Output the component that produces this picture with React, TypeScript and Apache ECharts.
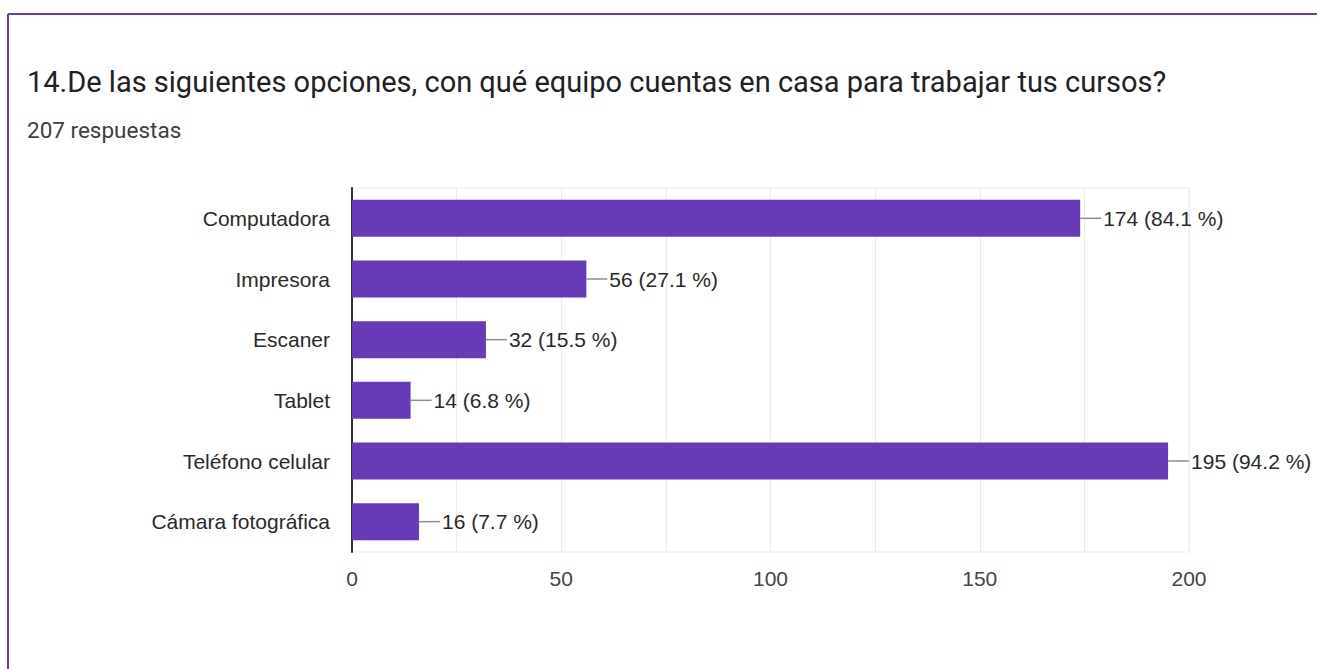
import React, { useEffect, useRef } from "react";
import * as echarts from "echarts";

const TITLE = "14.De las siguientes opciones, con qué equipo cuentas en casa para trabajar tus cursos?";
const SUBTITLE = "207 respuestas";
const categories = ["Computadora", "Impresora", "Escaner", "Tablet", "Teléfono celular", "Cámara fotográfica"];
const counts = [174, 56, 32, 14, 195, 16];
const percents = ["84.1", "27.1", "15.5", "6.8", "94.2", "7.7"];
const xTicks = [0, 50, 100, 150, 200];

const PURPLE = "#673ab7";

export default function App() {
  const ref = useRef<HTMLDivElement>(null);
  useEffect(() => {
    if (!ref.current) return;
    const chart = echarts.init(ref.current, undefined, { renderer: "svg" });
    chart.setOption({
      animation: false,
      backgroundColor: "#ffffff",
      textStyle: { fontFamily: "Liberation Sans, Arial, sans-serif" },
      graphic: [
        { type: "line", shape: { x1: 8, y1: 14, x2: 8, y2: 669 }, style: { stroke: PURPLE, lineWidth: 2 } },
        { type: "line", shape: { x1: 8, y1: 14, x2: 1317, y2: 14 }, style: { stroke: PURPLE, lineWidth: 2 } },
        {
          type: "text", x: 27, y: 82,
          style: { text: TITLE, fontSize: 29, fontFamily: "Roboto, sans-serif", fill: "#202124", verticalAlign: "middle" },
        },
        {
          type: "text", x: 27, y: 130,
          style: { text: SUBTITLE, fontSize: 22.5, fontFamily: "Roboto, sans-serif", fill: "#3c4043", verticalAlign: "middle" },
        },
      ],
      grid: { left: 352, right: 128, top: 188, bottom: 117, show: true, borderColor: "#ebebeb", borderWidth: 1 },
      xAxis: {
        type: "value",
        min: 0,
        max: 200,
        interval: 25,
        axisLine: { show: false },
        axisTick: { show: false },
        splitLine: { show: true, lineStyle: { color: "#ebebeb", width: 1 } },
        axisLabel: {
          margin: 16,
          fontSize: 21,
          color: "#444",
          formatter: (v: number) => (xTicks.includes(v) ? String(v) : ""),
        },
      },
      yAxis: {
        type: "category",
        data: categories,
        inverse: true,
        axisLine: { show: true, lineStyle: { color: "#333", width: 2 } },
        axisTick: { show: false },
        splitLine: { show: false },
        axisLabel: { margin: 22, fontSize: 21, color: "#2a2a2a" },
      },
      series: [
        {
          type: "bar",
          data: counts,
          barWidth: "61%",
          itemStyle: { color: PURPLE },
          label: {
            show: true,
            position: "right",
            distance: 0,
            formatter: (p: any) => `{l|}{v|${p.value} (${percents[p.dataIndex]} %)}`,
            rich: {
              l: { width: 21, height: 1.5, backgroundColor: "#8e8e8e" },
              v: { fontSize: 21, color: "#2a2a2a", padding: [0, 0, 0, 2] },
            },
          },
        },
      ],
    });
    return () => chart.dispose();
  }, []);
  return <div ref={ref} style={{ position: "absolute", left: 0, top: 0, width: 1317, height: 669 }} />;
}
